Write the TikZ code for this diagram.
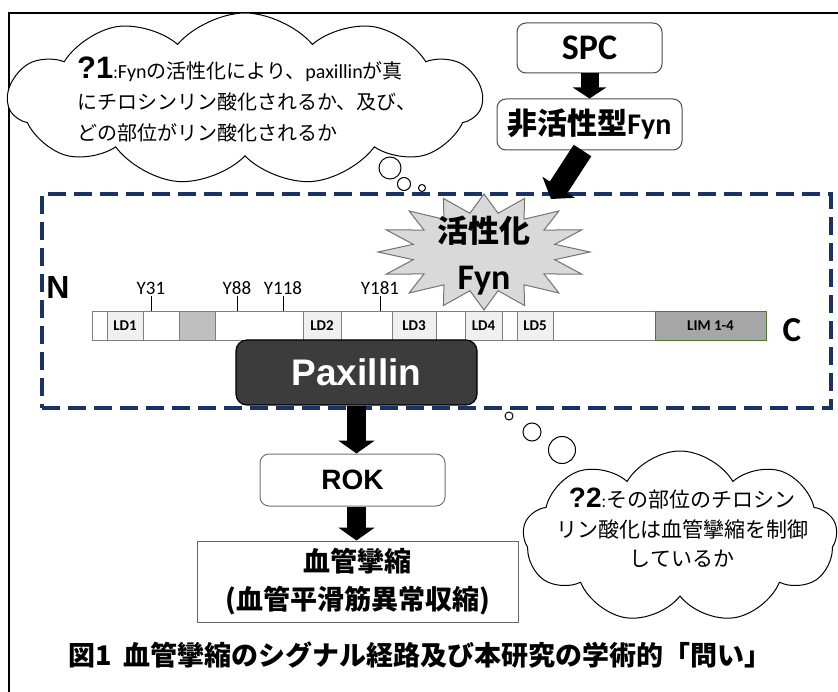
\documentclass[tikz,border=0pt]{standalone}
\usepackage{fontspec}
\setmainfont{Carlito}
\newfontfamily\jp{Noto Sans CJK JP}
\newfontfamily\lat{Carlito}
\newfontfamily\ari{Liberation Sans}
\usetikzlibrary{shapes.symbols,arrows.meta}
\definecolor{navy}{HTML}{1A3266}
\definecolor{ldgray}{HTML}{F0F0F0}
\definecolor{midgray}{HTML}{BFBFBF}
\definecolor{limgray}{HTML}{A6A6A6}
\definecolor{limgreen}{HTML}{4E7A34}
\definecolor{segline}{HTML}{7F7F7F}
\definecolor{starfill}{HTML}{D9D9D9}
\definecolor{paxfill}{HTML}{3C3C3C}
\begin{document}
\begin{tikzpicture}[x=1pt,y=-1pt,
  declare function={sr(\t)=ifthenelse(mod(round(\t/11.25),2)==0,1,0.68);},
  roundbox/.style={draw=black!70, line width=1, rounded corners=9, fill=white, inner sep=0},
  blockarrow/.style={line width=19, -{Triangle[length=13pt,width=36pt]}},
  seg/.style={draw=segline, line width=0.9, inner sep=0, outer sep=0, minimum height=29,
    font=\lat\bfseries\fontsize{15}{15}\selectfont},
  ylab/.style={font=\lat\fontsize{19}{19}\selectfont, inner sep=1, anchor=south},
  thought/.style={cloud, draw, fill=white, line width=1, cloud ignores aspect},
  bub/.style={circle, draw, fill=white, line width=1, inner sep=0},
  term/.style={font=\ari\bfseries\fontsize{32}{32}\selectfont, inner sep=0}
]
\useasboundingbox (0,0) rectangle (838,692);
% outer frame
\draw[line width=2.5] (9,692) -- (9,13) -- (838,13);

% dashed region
\node[draw=navy, line width=3.5, dash pattern=on 18pt off 8pt, minimum width=789, minimum height=214, inner sep=0] (region) at (436.5,301) {};

% SPC and inactive Fyn
\node[roundbox, minimum width=145, minimum height=50, font=\lat\bfseries\fontsize{36}{36}\selectfont] (spc) at (589.5,48) {SPC};
\node[roundbox, minimum width=185, minimum height=51, font=\bfseries\fontsize{30}{30}\selectfont] (fyn) at (589.5,124.5) {{\jp 非活性型}{\lat Fyn}};
\draw[blockarrow, line width=18, -{Triangle[length=11pt,width=33pt]}] (spc.south) -- (fyn.north);
\coordinate (acttip) at (551,199);
\draw[blockarrow, line width=21, -{Triangle[length=14pt,width=38pt]}] ([xshift=-7pt]fyn.south) -- (acttip);

% activated Fyn starburst
\draw[draw=black!55, line width=1, fill=starfill] plot[samples=33, domain=0:360, variable=\t]
  ({484+106*sr(\t)*cos(\t)}, {252+58*sr(\t)*sin(\t)}) -- cycle;
\node[align=center, font=\bfseries\fontsize{31}{47}\selectfont, inner sep=0] (actfyn) at (484,256)
  {{\jp 活性化}\\{\lat\fontsize{36}{47}\selectfont Fyn}};

% protein bar
\foreach \a/\b/\f/\d/\t [count=\i] in {
  92/107/white/segline/{}, 107/143/ldgray/segline/LD1, 143/179/white/segline/{},
  179/215/midgray/segline/{}, 215/303/white/segline/{}, 303/341/ldgray/segline/LD2,
  341/392/white/segline/{}, 392/436/ldgray/segline/LD3, 436/465/white/segline/{},
  465/502/ldgray/segline/LD4, 502/517/white/segline/{}, 517/553/ldgray/segline/LD5,
  553/655/white/segline/{}, 655/766/limgray/limgreen/{LIM 1-4}} {
  \node[seg, fill=\f, draw=\d, minimum width={(\b-\a)*1pt}, anchor=west] (s\i) at (\a,325.5) {\t};
}
\node[ylab] (y31) at (151,296) {Y31};
\node[ylab] (y88) at (237,296) {Y88};
\node[ylab] (y118) at (283,296) {Y118};
\node[ylab] (y181) at (380,296) {Y181};
\foreach \n in {y31,y88,y118,y181} \draw[line width=1] (\n.south) -- (\n.south |- s1.north);

\node[term] (nterm) at (58,287) {N};
\node[term, font=\lat\bfseries\fontsize{35}{35}\selectfont] (cterm) at (792,330) {C};

% Paxillin
\node[draw=black, line width=1.2, fill=paxfill, rounded corners=11, minimum width=241, minimum height=65, inner sep=0,
  text=white, font=\ari\bfseries\fontsize{37}{37}\selectfont] (pax) at (356.5,372.5) {Paxillin};

% ROK and outcome
\node[roundbox, draw=black!55, minimum width=185, minimum height=52, font=\ari\bfseries\fontsize{28}{28}\selectfont] (rok) at (352.5,480) {ROK};
\node[draw=black!60, line width=1, minimum width=321, minimum height=81, inner sep=0, align=center,
  font=\jp\bfseries\fontsize{27}{38}\selectfont] (vaso) at (357.5,581.5) {血管攣縮\\(血管平滑筋異常収縮)};
\draw[blockarrow] (pax.south) -- (pax.south |- rok.north);
\draw[blockarrow] (pax.south |- rok.south) -- (pax.south |- vaso.north);

% question cloud 1
\node[thought, cloud puffs=11, cloud puff arc=100, minimum width=474, minimum height=172] (cl1) at (245,99) {};
\node[anchor=west, align=left, inner sep=0, font=\jp\fontsize{20}{31}\selectfont] (q1) at (77,99)
  {{\ari\bfseries\fontsize{31}{31}\selectfont ?1}{\fontsize{16}{31}\selectfont :}{\lat Fyn}の活性化により、{\lat paxillin}が真\\にチロシンリン酸化されるか、及び、\\どの部位がリン酸化されるか};
\node[bub, minimum size=22] (b1a) at (390,168) {};
\node[bub, minimum size=13] (b1b) at (404,184) {};
\node[bub, minimum size=7] (b1c) at (422,188) {};

% question cloud 2
\node[thought, cloud puffs=9, cloud puff arc=120, minimum width=314, minimum height=172] (cl2) at (680,537) {};
\node[align=center, inner sep=0, font=\jp\fontsize{21}{29.5}\selectfont] (q2) at (682,528)
  {{\ari\bfseries\fontsize{28}{29.5}\selectfont ?2}{\fontsize{16}{29.5}\selectfont :}その部位のチロシン\\リン酸化は血管攣縮を制御\\しているか};
\node[bub, minimum size=8] (b2a) at (509,416) {};
\node[bub, minimum size=18] (b2b) at (532,432) {};
\node[bub, minimum size=27] (b2c) at (562,450) {};

% caption
\node[inner sep=0, font=\jp\bfseries\fontsize{27}{27}\selectfont] (cap) at (420,655)
  {図1\hspace{12pt}血管攣縮のシグナル経路及び本研究の学術的「問い」};
\end{tikzpicture}
\end{document}
